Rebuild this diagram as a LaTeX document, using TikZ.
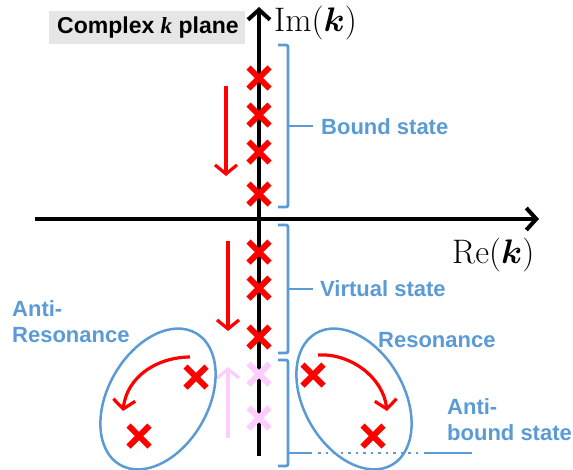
\documentclass[tikz,border=0pt]{standalone}
\usepackage{fix-cm}
\usepackage{fontspec}
\usepackage{bm}
\usetikzlibrary{arrows.meta,shapes.misc}
\newfontfamily\labfont{Liberation Sans}
\newfontfamily\serfont{Liberation Serif}
\definecolor{lblue}{RGB}{91,155,213}
\definecolor{lpink}{RGB}{255,204,255}
\definecolor{lgray}{RGB}{231,230,230}
\tikzset{
  axis/.style={line width=4.5pt,-{Straight Barb[length=10pt,width=22pt,line width=4pt]}},
  redx/.style={cross out,draw=red,line width=6pt,minimum size=15pt,inner sep=0pt},
  pinkx/.style={cross out,draw=lpink,line width=6pt,minimum size=15pt,inner sep=0pt},
  movearrow/.style={line width=3.2pt,-{Straight Barb[length=9pt,width=22pt,line width=3.2pt]}},
  bracket/.style={draw=lblue,line width=2.8pt,rounded corners=2pt},
  ell/.style={draw=lblue,line width=2.5pt},
  lab/.style={text=lblue,font=\labfont\bfseries\fontsize{22}{26}\selectfont,anchor=west,inner sep=0pt,align=left},
  mathlab/.style={anchor=west,inner sep=0pt,font=\fontsize{34}{38}\selectfont},
}
\begin{document}
\begin{tikzpicture}[x=1pt,y=-1pt]
\useasboundingbox (0,0) rectangle (573,469);
% title box
\node[fill=lgray,minimum width=196pt,minimum height=33pt,inner sep=0pt,anchor=north west] (title) at (49,11) {};
\node[anchor=west,inner sep=0pt,font=\labfont\bfseries\fontsize{23}{26}\selectfont] (titletext) at (57,28) {Complex {\serfont\bfseries\itshape k} plane};
% axes
\coordinate (vb) at (259,456);
\coordinate (vt) at (259,7);
\coordinate (hl) at (35,219);
\coordinate (hr) at (539,219);
\draw[axis] (hl) -- (hr);
\draw[axis] (vb) -- (vt);
\node[mathlab] (im) at (274,23) {$\mathrm{Im}(\bm{k})$};
\node[mathlab] (re) at (452,255) {$\mathrm{Re}(\bm{k})$};
% crosses on axis
\node[redx] (b1) at (259,78) {};
\node[redx] (b2) at (259,115) {};
\node[redx] (b3) at (259,152) {};
\node[redx] (b4) at (259,194) {};
\node[redx] (v1) at (259,252) {};
\node[redx] (v2) at (259,288) {};
\node[redx] (v3) at (259,337) {};
\node[pinkx] (p1) at (259,374) {};
\node[pinkx] (p2) at (259,418) {};
% vertical motion arrows
\coordinate (ba1) at (226,86);
\coordinate (ba2) at (226,176);
\coordinate (va1) at (228,241);
\coordinate (va2) at (228,331);
\coordinate (pa1) at (228,438);
\coordinate (pa2) at (228,367);
\draw[movearrow,red] (ba1) -- (ba2);
\draw[movearrow,red] (va1) -- (va2);
\draw[movearrow,lpink] (pa1) -- (pa2);
% brackets
\draw[bracket] (278,45) -- (288,45) -- (288,207) -- (278,207);
\draw[bracket] (288,126) -- (313,126);
\draw[bracket] (278,225) -- (288,225) -- (288,353) -- (278,353);
\draw[bracket] (288,289) -- (313,289);
\draw[bracket] (278,360) -- (288,360) -- (288,466) -- (278,466);
\draw[bracket] (288,453) -- (312,453);
\draw[draw=lblue,line width=2.8pt,dash pattern=on 2.5pt off 5pt] (318,453) -- (420,453);
\draw[draw=lblue,line width=2.8pt] (424,453) -- (472,453);
% labels
\node[lab] (bound) at (321,127) {Bound state};
\node[lab] (virtual) at (320,289) {Virtual state};
\node[lab] (res) at (378,340) {Resonance};
\node[lab,anchor=north west] (antibound) at (447,398) {Anti-\\bound state};
\node[lab,anchor=north west] (antires) at (12,300) {Anti-\\Resonance};
% ellipses
\draw[ell,rotate around={60:(158,399)}] (158,399) ellipse [x radius=76, y radius=50];
\draw[ell,rotate around={-60:(354,399)}] (354,399) ellipse [x radius=76, y radius=50];
% crosses in ellipses
\node[redx] (l1) at (196,377) {};
\node[redx] (l2) at (139,436) {};
\node[redx] (r1) at (313,375) {};
\node[redx] (r2) at (373,436) {};
% curved arrows
\coordinate (ls) at (190,357);
\coordinate (le) at (123,411);
\coordinate (rs) at (318,355);
\coordinate (re2) at (387,411);
\draw[movearrow,red] (ls) .. controls (158,357) and (127,376) .. (le);
\draw[movearrow,red] (rs) .. controls (350,353) and (383,377) .. (re2);
\end{tikzpicture}
\end{document}
